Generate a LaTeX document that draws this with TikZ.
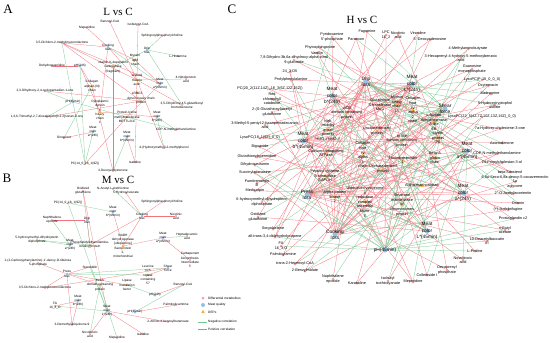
\documentclass[tikz,border=0pt]{standalone}
\usepackage{fontspec}
\setmainfont{Liberation Sans}
\newfontfamily\titlefont{Liberation Serif}
\usepackage{xcolor}
\usepackage{tikz}
\usetikzlibrary{shapes.geometric,backgrounds}

\definecolor{mkpink}{RGB}{244,160,160}
\definecolor{mkblue}{RGB}{150,190,230}
\definecolor{mkorange}{RGB}{245,180,70}
\definecolor{edgered}{RGB}{240,115,125}
\definecolor{edgegreen}{RGB}{120,200,145}

\newcommand{\fsA}{\fontsize{3.2}{4.2}\selectfont}
\newcommand{\fsC}{\fontsize{3.8}{4.6}\selectfont}
\newcommand{\fsQ}{\fontsize{4.8}{6.2}\selectfont}

\begin{document}
\begin{tikzpicture}[
x=1pt, y=-1pt,
txtA/.style={font=\fsA, align=center, inner sep=0pt},
txtC/.style={font=\fsC, align=center, inner sep=0pt},
txtQ/.style={font=\fsQ, align=center, inner sep=0pt},
mtA/.style={circle, fill=mkpink, inner sep=0pt, minimum size=2.4pt, label={[txtA]center:{#1}}},
mqA/.style={circle, fill=mkblue, inner sep=0pt, minimum size=3pt, label={[txtA]center:{#1}}},
dpA/.style={regular polygon, regular polygon sides=3, fill=mkorange, inner sep=0pt, minimum size=3.6pt, label={[txtA]center:{#1}}},
mtC/.style={circle, fill=mkpink, inner sep=0pt, minimum size=3pt, label={[txtC]center:{#1}}},
mqC/.style={circle, fill=mkblue, inner sep=0pt, minimum size=5pt, label={[txtQ]center:{#1}}},
dpC/.style={regular polygon, regular polygon sides=3, fill=mkorange, inner sep=0pt, minimum size=4.5pt, label={[txtC]center:{#1}}},
ttl/.style={font=\titlefont\fontsize{13}{13}\selectfont, inner sep=0pt},
hdr/.style={font=\titlefont\fontsize{11}{11}\selectfont, inner sep=0pt},
lgd/.style={font=\fsA, inner sep=0pt, anchor=west},
poscor/.style={draw=edgered, line width=0.28pt},
negcor/.style={draw=edgegreen, line width=0.28pt}
]
\useasboundingbox (0,0) rectangle (550,343);

% Panel A
\node[ttl] (labA) at (8,9) {A};
\node[hdr] (hdA) at (118,12) {L vs C};

\node[mtA={Benzoyl-CoA}] (a1) at (110,22) {};
\node[mtA={Isobutyryl-CoA}] (a2) at (138,25) {};
\node[mtA={Sphingosylphosphorylcholine}] (a3) at (162,36) {};
\node[mtA={Meperidine}] (a4) at (87,28) {};
\node[mtA={3,5-Dichloro-2-methylmuconolactone}] (a5) at (62,43) {};
\node[mtA={L-Histamine}] (a6) at (178,56) {};
\node[mtA={Dehydroguanidine}] (a7) at (52,66) {};
\node[mtA={4-Nitrobenzoic\\acid}] (a8) at (186,79) {};
\node[mtA={2,3-Dihydroxy-2,4-cyclopentadien-1-one}] (a9) at (45,91) {};
\node[mtA={3,5-Dihydroxy-4,5-glutathionyl\\bromobenzene}] (a10) at (182,105) {};
\node[mtA={1,6,6-Trimethyl-2,7-dioxabicyclo[3.2.2]nonan-3-one}] (a11) at (47,117) {};
\node[mtA={CDP-N-methylethanolamine}] (a12) at (176,130) {};
\node[mtA={Dinoprost}] (a13) at (64,138) {};
\node[mtA={4-(Hydroxymethyl)-2-methylphenol}] (a14) at (164,148) {};
\node[mtA={PC(14\_0\_18\_1(9Z))}] (a15) at (85,164) {};
\node[mtA={Isatidine}] (a16) at (135,162) {};
\node[mtA={2-Deoxyecdysterone}] (a17) at (113,171) {};

\node[mqA={Cooking\\loss}] (q1) at (108,47) {};
\node[mqA={Drip\\loss}] (q2) at (147,50) {};
\node[mqA={pH(24h)}] (q3) at (80,66) {};
\node[mqA={pH(45min)}] (q4) at (73,102) {};
\node[mqA={Meat\\color\\a*(45min)}] (q5) at (160,84) {};
\node[mqA={Meat\\color\\a*(24h)}] (q6) at (93,132) {};
\node[mqA={Meat\\color\\b*(24h)}] (q7) at (157,117) {};
\node[mqA={Meat\\color\\b*(45min)}] (q8) at (127,137) {};

\node[dpA={vitamin K-dependent\\carboxylase\\(fragment)}] (d1) at (113,67) {};
\node[dpA={Myosin\\light\\chain}] (d2) at (135,60) {};
\node[dpA={Collagen\\alpha-1(III)\\chain}] (d3) at (92,86) {};
\node[dpA={skeletal\\muscle\\actin}] (d4) at (137,80) {};
\node[dpA={LRRC3}] (d5) at (137,93) {};
\node[dpA={dynein heavy chain\\protein}] (d6) at (141,101) {};
\node[dpA={Cytoplasmic\\dynein\\1\\heavy\\chain\\1}] (d7) at (100,112) {};
\node[dpA={Protein-lysine\\methyltransferase\\METTL21C}] (d8) at (127,117) {};

% Panel B
\node[ttl] (labB) at (7,178) {B};
\node[hdr] (hdB) at (118,180) {M vs C};

\node[mtA={N-Acetyl-L-methionine}] (b1) at (113,189) {};
\node[mtA={5-Hydroxyisourate}] (b2) at (126,193) {};
\node[mtA={Oxidized\\glutathione}] (b3) at (83,191) {};
\node[mtA={PC(14\_0\_18\_1(9Z))}] (b4) at (68,203) {};
\node[mtA={Sphingosylphosphorylcholine}] (b5) at (162,202) {};
\node[mtA={Nicotinic\\acid}] (b6) at (176,216) {};
\node[mtA={Naphthalene\\epoxide}] (b7) at (52,220) {};
\node[mtA={5-hydroxymethyl-dihydropterin\\diphosphate}] (b8) at (37,240) {};
\node[mtA={1-(2-Carboxyphenylamino)-1'-deoxy-D-ribulose\\5-phosphate}] (b9) at (38,263) {};
\node[mtA={Stercobilin}] (b10) at (90,267) {};
\node[mtA={3,5-Dichloro-2-methylmuconolactone}] (b11) at (45,288) {};
\node[mtA={FA\\16\_3\_O}] (b12) at (55,306) {};
\node[mtA={3-Demethylubiquinone-9}] (b13) at (72,325) {};
\node[mtA={Novobiocic\\acid}] (b14) at (90,334) {};
\node[mtA={Meperidine}] (b15) at (117,338) {};
\node[mtA={Isatidine}] (b16) at (143,334) {};
\node[mtA={2-Amino-4-benzoylbutanoate}] (b17) at (168,322) {};
\node[mtA={Palmitoylcarnitine}] (b18) at (176,305) {};
\node[mtA={Carbapenem\\biosynthesis\\intermediate\\5}] (b19) at (190,260) {};
\node[mtA={Benzoyl-CoA}] (b20) at (183,285) {};
\node[mtA={Heptadecanoic\\acid}] (b21) at (187,236) {};

\node[mqA={Meat\\color\\b*(45min)}] (p1) at (113,212) {};
\node[mqA={Cooking\\loss}] (p2) at (142,216) {};
\node[mqA={Drip\\loss}] (p3) at (87,220) {};
\node[mqA={Meat\\color\\a*(24h)}] (p4) at (70,245) {};
\node[mqA={Meat\\color\\a*(45min)}] (p5) at (163,238) {};
\node[mqA={Press\\loss}] (p6) at (67,274) {};
\node[mqA={Shear\\force}] (p7) at (168,268) {};
\node[mqA={Meat\\color\\b*(24h)}] (p8) at (78,301) {};
\node[mqA={Meat\\color\\L*(24h)}] (p9) at (107,311) {};
\node[mqA={pH(45min)}] (p10) at (135,312) {};
\node[mqA={pH(24h)}] (p11) at (155,295) {};

\node[dpA={Phosphatidylethanolamine-\\binding protein}] (e1) at (90,245) {};
\node[dpA={NADH\\dehydrogenase\\{[ubiquinone]}\\flavoprotein\\2,\\mitochondrial}] (e2) at (123,246) {};
\node[dpA={Leucine\\rich\\repeat\\containing\\57}] (e3) at (148,275) {};
\node[dpA={Kelch\\domain-containing\\protein}] (e4) at (100,285) {};
\node[dpA={Lipase\\maturation\\factor}] (e5) at (127,285) {};

% Panel C
\node[ttl] (labC) at (232,9) {C};
\node[hdr] (hdC) at (362,20) {H vs C};

\node[mtC={Pyridoxamine\\5'-phosphate}] (c1) at (332,37) {};
\node[mtC={Paraoxon}] (c2) at (356,39) {};
\node[mtC={Fagomine}] (c3) at (367,32) {};
\node[mtC={LPC\\16\_2}] (c4) at (386,35) {};
\node[mtC={Nicotinic\\acid}] (c5) at (398,35) {};
\node[mtC={Vincoline}] (c6) at (418,33) {};
\node[mtC={5'-Deoxyadenosine}] (c7) at (430,40) {};
\node[mtC={Phytosphingosine}] (c8) at (320,48) {};
\node[mtC={Vanillin}] (c9) at (317,53) {};
\node[mtC={7,8-Dihydro-3b,6a-dihydroxy-alpha-ionol\\9-glucoside}] (c10) at (294,60) {};
\node[mtC={24\_3;O5}] (c11) at (290,72) {};
\node[mtC={Prolylphenylalanine}] (c12) at (291,80) {};
\node[mtC={PC(20\_2(11Z,14Z)\_18\_3(6Z,12Z,15Z))}] (c13) at (270,89) {};
\node[mtC={Red\\chlorophyll\\catabolite}] (c14) at (272,99) {};
\node[mtC={2-(S-Glutathionyl)acetyl\\glutathione}] (c15) at (272,112) {};
\node[mtC={3-Methyl-5-pentyl-2-furanpentadecanoic\\acid}] (c16) at (265,125) {};
\node[mtC={LysoPC(18\_1(9Z)\_0\_0)}] (c17) at (260,138) {};
\node[mtC={Biguanide}] (c18) at (260,147) {};
\node[mtC={Glutathionylspermidine}] (c19) at (257,157) {};
\node[mtC={Dihydroseurumin}] (c20) at (255,165) {};
\node[mtC={Succinyladenosine}] (c21) at (255,173) {};
\node[mtC={Fumitremorgin\\B}] (c22) at (257,183) {};
\node[mtC={Medicarpin}] (c23) at (255,191) {};
\node[mtC={6-hydroxymethyl-dihydropterin\\diphosphate}] (c24) at (262,202) {};
\node[mtC={Oxidized\\glutathione}] (c25) at (258,217) {};
\node[mtC={Sorgolactone}] (c26) at (273,229) {};
\node[mtC={all-trans-3,4-didehydrolycopene}] (c27) at (275,237) {};
\node[mtC={FA\\16\_3;O}] (c28) at (281,246) {};
\node[mtC={Palmitoylamine}] (c29) at (283,255) {};
\node[mtC={trans-2-Hexenoyl-CoA}] (c30) at (295,264) {};
\node[mtC={2-Benzylmalate}] (c31) at (305,271) {};
\node[mtC={Naphthalene\\epoxide}] (c32) at (333,279) {};
\node[mtC={Karakoline}] (c33) at (357,283) {};
\node[mtC={Isobutyl\\isothiocyanate}] (c34) at (388,281) {};
\node[mtC={Meperidine}] (c35) at (413,282) {};
\node[mtC={Collettiside I}] (c36) at (427,275) {};
\node[mtC={Decaprenyl\\phosphate}] (c37) at (447,270) {};
\node[mtC={Novobiocic\\acid}] (c38) at (463,260) {};
\node[mtC={L-Proline}] (c39) at (475,251) {};
\node[mtC={10-Deacetylbaccatin\\III}] (c40) at (487,241) {};
\node[mtC={n-Butyl\\acetate}] (c41) at (505,230) {};
\node[mtC={Prostaglandin c2}] (c42) at (513,219) {};
\node[mtC={(+)-Isofebrifugine}] (c43) at (508,210) {};
\node[mtC={Ononin}] (c44) at (518,203) {};
\node[mtC={2''-O-Acetylisoorientin}] (c45) at (513,194) {};
\node[mtC={6,8a-Seco-6,8a-deoxy-5-oxoavermectin\\1a\\aglycone}] (c46) at (515,182) {};
\node[mtC={beta-Sitosterol}] (c47) at (510,172) {};
\node[mtC={24-Propylcholestan-3-ol}] (c48) at (502,163) {};
\node[mtC={CDP-N-methylethanolamine}] (c49) at (497,154) {};
\node[mtC={Asterodenone}] (c50) at (502,143) {};
\node[mtC={7a-Hydroxy-cholestene-3-one}] (c51) at (500,129) {};
\node[mtC={LysoPC(22\_5(4Z,7Z,10Z,13Z,16Z)\_0\_0)}] (c52) at (482,117) {};
\node[mtC={5-Hydroxytryptophol\\sulfate}] (c53) at (495,105) {};
\node[mtC={Meleagrine}] (c54) at (490,94) {};
\node[mtC={Oxytemacin}] (c55) at (488,86) {};
\node[mtC={LysoPC(P-18\_0\_0\_0)}] (c56) at (482,80) {};
\node[mtC={Guanosine\\monophosphate}] (c57) at (472,69) {};
\node[mtC={3-Hexaprenyl-4-hydroxy-5-methoxybenzoic\\acid}] (c58) at (461,58) {};
\node[mtC={4-Methylaminobutyrate}] (c59) at (468,49) {};

\node[mqC={Drip\\loss}] (r1) at (366,82) {};
\node[mqC={Meat\\color\\L*(24h)}] (r2) at (412,84) {};
\node[mqC={Meat\\color\\b*(24h)}] (r3) at (332,96) {};
\node[mqC={Meat\\color\\b*(45min)}] (r4) at (303,141) {};
\node[mqC={Shear\\force}] (r5) at (445,109) {};
\node[mqC={Meat\\color\\a*(45min)}] (r6) at (467,151) {};
\node[mqC={Meat\\color\\a*(24h)}] (r7) at (463,193) {};
\node[mqC={Press\\loss}] (r8) at (307,195) {};
\node[mqC={Cooking\\loss}] (r9) at (335,235) {};
\node[mqC={Meat\\color\\L*(45min)}] (r10) at (427,231) {};
\node[mqC={pH(45min)}] (r11) at (385,250) {};

\node[dpC={ACB\\domain-containing\\protein}] (g1) at (347,113) {};
\node[dpC={Glutathione\\S-transferase\\Mu 1}] (g2) at (380,105) {};
\node[dpC={Myosin\\heavy\\chain\\15}] (g3) at (397,104) {};
\node[dpC={Collagen\\type\\IV\\alpha\\2\\chain}] (g4) at (413,110) {};
\node[dpC={Uncharacterized\\protein}] (g8) at (377,131) {};
\node[dpC={high\\mobility\\group\\protein\\HMG-I/HMG-Y}] (g5) at (328,130) {};
\node[dpC={Calcium-transporting\\ATPase}] (g6) at (326,153) {};
\node[dpC={Collagen\\type\\IV\\alpha\\1\\chain}] (g7) at (363,155) {};
\node[dpC={Ig-like\\domain-containing\\protein}] (g9) at (402,141) {};
\node[dpC={Thrombospondin\\1}] (g10) at (403,160) {};
\node[dpC={Uncharacterized\\protein}] (g11) at (383,169) {};
\node[dpC={Peptidyl-cysteine\\S-nitrosylase\\GAPDH}] (g12) at (325,176) {};
\node[dpC={Ubiquinol-cytochrome\\c\\reductase\\complex\\assembly\\factor\\5}] (g13) at (365,202) {};
\node[dpC={Alpha-protein\\kinase\\2}] (g14) at (335,197) {};
\node[dpC={Structural\\maintenance\\of\\chromosomes\\protein}] (g15) at (402,205) {};
\node[dpC={Alpha-mannosidase}] (g16) at (422,186) {};
\node[dpC={L-lactate\\dehydrogenase\\A-like\\6B}] (g17) at (434,122) {};
\node[dpC={Myelin\\protein\\P0}] (g18) at (438,138) {};
\node[dpC={Beta-A\\globin\\chain}] (g19) at (435,158) {};

% Legend
\node[mtC={}] (lk1) at (203,298) {};
\node[lgd] (lt1) at (208,298) {Differential metabolites};
\node[mqC={}, minimum size=4pt] (lk2) at (203,305) {};
\node[lgd] (lt2) at (208,305) {Meat quality};
\node[dpC={}] (lk3) at (203,312) {};
\node[lgd] (lt3) at (208,312) {DEPs};
\coordinate (ln1a) at (198,322);
\coordinate (ln1b) at (207,322);
\node[lgd] (lt4) at (208,322) {Negative correlation};
\coordinate (ln2a) at (198,329);
\coordinate (ln2b) at (207,329);
\node[lgd] (lt5) at (208,329) {Positive correlation};
\draw[negcor, line width=0.8pt] (ln1a) -- (ln1b);
\draw[poscor, line width=0.8pt] (ln2a) -- (ln2b);

% Correlations
\begin{pgfonlayer}{background}
\foreach \u/\v in {a1/d4, a2/d4, a4/q1, a5/q1, a5/d4, a5/d6, a5/q5, q1/d2, q1/d4, q1/d7,
  a7/q3, q3/d3, a9/d6, a11/d6, d7/q7, d3/a17, q6/a13, q8/a16, d4/a16, d4/a14, a10/d4,
  q5/d8, d2/q5, q3/d7, a15/d8, a17/d1}
  \draw[poscor] (\u) -- (\v);
\foreach \u/\v in {a3/q2, q2/a6, q1/q5, a9/q4, a11/q4, q4/a15, q3/a15, q4/d8, a12/d8,
  q6/a15, q8/a17, a8/d4, q7/a12, a14/q7, d1/q2, a5/q4, d3/a13, q2/a10}
  \draw[negcor] (\u) -- (\v);

\foreach \u/\v in {b3/e1, b2/p2, b5/p2, p2/e2, b7/p3, b9/p6, b10/p6, b11/p6, p6/e4, p6/e5,
  b12/p8, b13/p8, b13/p6, b14/p9, b16/p9, b17/p9, p10/b18, p7/e3, b6/p2, p2/e1, b19/p5,
  b20/p11, e2/p5, b3/p9, p1/e2, b11/p7}
  \draw[poscor] (\u) -- (\v);
\foreach \u/\v in {b1/p2, b4/p9, b7/p4, b8/p4, b10/p9, p6/p7, p6/e3, b12/p9, b15/e4,
  b14/e4, p11/e5, b21/p5, p3/e1, b8/e1, p10/b20, b4/p1}
  \draw[negcor] (\u) -- (\v);

\foreach \u/\v in {c1/r9, c1/r7, c2/r10, c3/r9, c4/r11, c5/r7, c6/r8, c7/r9, c8/r6, c9/r5,
  c10/r6, c11/r4, c12/r2, c13/r5, c14/r6, c15/r3, c16/r2, c17/r4, c18/r10, c19/r7, c20/r4,
  c21/r6, c22/r2, c23/r7, c24/r2, c25/r3, c26/r1, c27/r3, c28/r2, c29/r1, c30/r5, c31/r7,
  c32/r1, c33/r2, c34/r6, c35/r3, c36/r1, c37/r2, c38/r4, c39/r3, c40/r8, c41/r8, c42/r3,
  c43/r4, c44/r8, c45/r4, c46/r9, c47/r3, c48/r8, c49/r9, c50/r4, c51/r8, c52/r9, c53/r8,
  c54/r9, c55/r4, c56/r8, c57/r9, c58/r4, c59/r8,
  c2/r3, c4/r8, c5/r4, c7/r4, c9/r10, c11/r9, c13/r7, c15/r9, c17/r2, c19/r1, c21/r9,
  c23/r2, c25/r10, c27/r1, c29/r5, c31/r2, c33/r6, c35/r4, c37/r8, c41/r3, c43/r9, c45/r8,
  c47/r1, c49/r8, c51/r3, c53/r4, c55/r9, c57/r4,
  g1/r1, g2/r2, g3/r4, g4/r1, g5/r1, g6/r5, g7/r1, g8/r2, g9/r5, g10/r4, g11/r9, g12/r1,
  g13/r2, g14/r6, g15/r1, g16/r4, g17/r8, g18/r9, g19/r8,
  g2/r9, g4/r11, g6/r9, g8/r8, g10/r8, g12/r5, g14/r2, g16/r8, g18/r4}
  \draw[poscor] (\u) -- (\v);
\foreach \u/\v in {c1/r4, c3/r5, c6/r11, c8/r7, c10/r5, c12/r11, c14/r7, c16/r11, c18/r5,
  c20/r11, c22/r5, c24/r6, c26/r5, c28/r11, c30/r6, c32/r5, c34/r5, c36/r6, c38/r6, c39/r11,
  c40/r11, c42/r11, c44/r1, c46/r1, c48/r11, c50/r1, c52/r11, c54/r1, c56/r3, c58/r11,
  c59/r9, g1/r9, g3/r9, g5/r10, g7/r10, g9/r10, g11/r3, g13/r10, g15/r3, g17/r11, g19/r1,
  r3/r5, r8/r6,
  c2/r5, c9/r11, c13/r11, c17/r5, c21/r11, c25/r5, c27/r11, c31/r6, c35/r5, c41/r11,
  c45/r1, c49/r1, c53/r1, c57/r11, g2/r10, g6/r11, g10/r11, g14/r10}
  \draw[negcor] (\u) -- (\v);
\end{pgfonlayer}

\end{tikzpicture}
\end{document}
